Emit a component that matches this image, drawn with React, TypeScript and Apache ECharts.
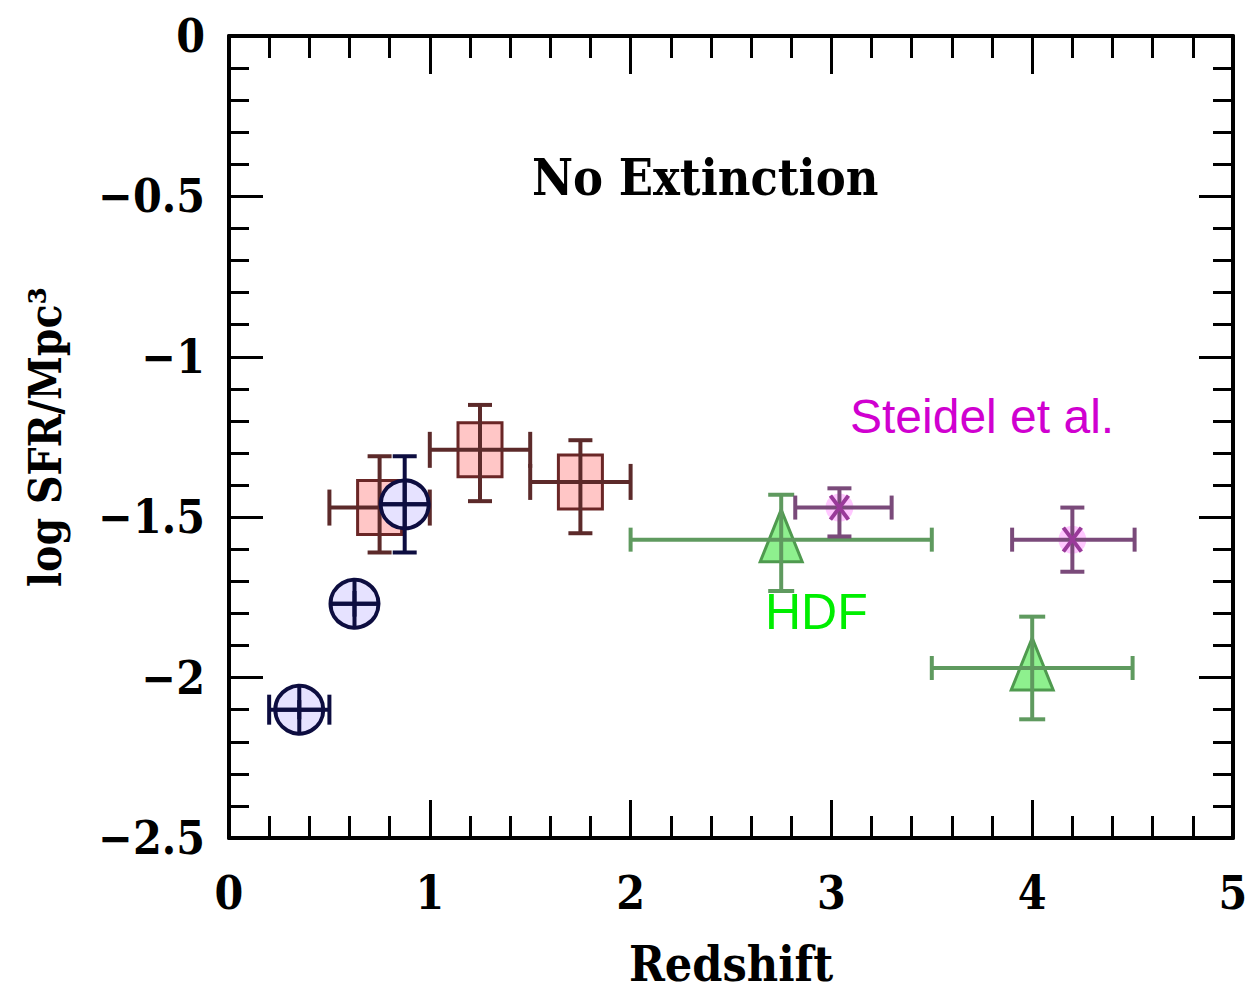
import React, { useEffect, useRef } from "react";
import * as echarts from "echarts";

// Lilly et al. (CFRS) – blue circles
const lillyZ = [0.35, 0.625, 0.875];
const lillyZLo = [0.2, 0.5, 0.75];
const lillyZHi = [0.5, 0.75, 1.0];
const lillySFR = [-2.1, -1.77, -1.46];
const lillySFRLo = [-2.13, -1.81, -1.61];
const lillySFRHi = [-2.07, -1.73, -1.31];

// Connolly et al. – red squares
const connollyZ = [0.75, 1.25, 1.75];
const connollyZLo = [0.5, 1.0, 1.5];
const connollyZHi = [1.0, 1.5, 2.0];
const connollySFR = [-1.47, -1.29, -1.39];
const connollySFRLo = [-1.61, -1.45, -1.55];
const connollySFRHi = [-1.31, -1.15, -1.26];

// HDF (Madau et al.) – green triangles
const hdfZ = [2.75, 4.0];
const hdfZLo = [2.0, 3.5];
const hdfZHi = [3.5, 4.5];
const hdfSFR = [-1.57, -1.97];
const hdfSFRLo = [-1.73, -2.13];
const hdfSFRHi = [-1.43, -1.81];

// Steidel et al. – magenta stars
const steidelZ = [3.04, 4.2];
const steidelZLo = [2.82, 3.9];
const steidelZHi = [3.3, 4.51];
const steidelSFR = [-1.47, -1.57];
const steidelSFRLo = [-1.56, -1.67];
const steidelSFRHi = [-1.41, -1.47];

const xTicks = [0, 1, 2, 3, 4, 5];
const yTicks = [0, -0.5, -1, -1.5, -2, -2.5];

const rows = (z: number[], zl: number[], zh: number[], s: number[], sl: number[], sh: number[]) =>
  z.map((v, i) => [v, s[i], zl[i], zh[i], sl[i], sh[i]]);

const SERIF = '"DejaVu Serif Condensed", "Liberation Serif", "DejaVu Serif", serif';

function makeRender(kind: string) {
  return (params: any, api: any) => {
    const x = api.value(0), y = api.value(1);
    const c = api.coord([x, y]);
    const l = api.coord([api.value(2), y]);
    const r = api.coord([api.value(3), y]);
    const b = api.coord([x, api.value(4)]);
    const t = api.coord([x, api.value(5)]);
    let barColor = "#5c2a2a", hCap = 24, vCap = 24, rad = 0;
    if (kind === "lilly") { barColor = "#0d0d40"; hCap = 30; vCap = 24; rad = 26; }
    if (kind === "connolly") { barColor = "#5c2a2a"; hCap = 36; vCap = 24; }
    if (kind === "hdf") { barColor = "#5f9a5f"; hCap = 24; vCap = 26; }
    if (kind === "steidel") { barColor = "#7a4a7a"; hCap = 24; vCap = 24; }
    const ls = { stroke: barColor, lineWidth: 4 };
    const children: any[] = [];
    if (kind === "lilly") {
      children.push({ type: "circle", shape: { cx: c[0], cy: c[1], r: 24 }, style: { fill: "#e6e2ff", stroke: "#0d0d40", lineWidth: 4 } });
    } else if (kind === "connolly") {
      children.push({ type: "rect", shape: { x: c[0] - 22, y: c[1] - 27, width: 44, height: 54 }, style: { fill: "#ffc6c6", stroke: "#6a2626", lineWidth: 3 } });
    } else if (kind === "hdf") {
      children.push({ type: "polygon", shape: { points: [[c[0], c[1] - 30], [c[0] - 21, c[1] + 22], [c[0] + 21, c[1] + 22]] }, style: { fill: "#8ef08e", stroke: "#4f9a4f", lineWidth: 3 } });
    } else {
      children.push({ type: "circle", shape: { cx: c[0], cy: c[1], r: 14 }, style: { fill: "#ffc8ff", stroke: "none" } });
    }
    children.push({ type: "line", shape: { x1: l[0], y1: l[1], x2: r[0], y2: r[1] }, style: ls });
    if (c[0] - l[0] > rad) children.push({ type: "line", shape: { x1: l[0], y1: l[1] - hCap / 2, x2: l[0], y2: l[1] + hCap / 2 }, style: ls });
    if (r[0] - c[0] > rad) children.push({ type: "line", shape: { x1: r[0], y1: r[1] - hCap / 2, x2: r[0], y2: r[1] + hCap / 2 }, style: ls });
    children.push({ type: "line", shape: { x1: b[0], y1: b[1], x2: t[0], y2: t[1] }, style: ls });
    if (b[1] - c[1] > rad) children.push({ type: "line", shape: { x1: b[0] - vCap / 2, y1: b[1], x2: b[0] + vCap / 2, y2: b[1] }, style: ls });
    if (c[1] - t[1] > rad) children.push({ type: "line", shape: { x1: t[0] - vCap / 2, y1: t[1], x2: t[0] + vCap / 2, y2: t[1] }, style: ls });
    if (kind === "lilly") {
      children.push({ type: "line", shape: { x1: c[0] - 24, y1: c[1], x2: c[0] + 24, y2: c[1] }, style: { stroke: "#0d0d40", lineWidth: 4 } });
      children.push({ type: "line", shape: { x1: c[0], y1: c[1] - 24, x2: c[0], y2: c[1] + 24 }, style: { stroke: "#0d0d40", lineWidth: 4 } });
    }
    if (kind === "steidel") {
      const m = { stroke: "#9a3a9a", lineWidth: 4 };
      children.push({ type: "line", shape: { x1: c[0] - 9, y1: c[1] - 12, x2: c[0] + 9, y2: c[1] + 12 }, style: m });
      children.push({ type: "line", shape: { x1: c[0] + 9, y1: c[1] - 12, x2: c[0] - 9, y2: c[1] + 12 }, style: m });
    }
    return { type: "group", children };
  };
}

export default function App() {
  const ref = useRef<HTMLDivElement>(null);
  useEffect(() => {
    const chart = echarts.init(ref.current!, null, { renderer: "svg" });
    const axisCommon = {
      type: "value" as const,
      axisLine: { show: true, onZero: false, lineStyle: { color: "#000", width: 4 } },
      splitLine: { show: false },
    };
    const xTick = {
      axisTick: { show: true, inside: true, length: 38, lineStyle: { color: "#000", width: 3 } },
      minorTick: { show: true, splitNumber: 5, length: 22, lineStyle: { color: "#000", width: 3 } },
    };
    const yTick = {
      axisTick: { show: true, inside: true, length: 34, lineStyle: { color: "#000", width: 3 } },
      minorTick: { show: true, splitNumber: 5, length: 20, lineStyle: { color: "#000", width: 3 } },
    };
    chart.setOption({
      animation: false,
      backgroundColor: "#ffffff",
      grid: { left: 229, top: 36, width: 1004, height: 802, containLabel: false, outerBoundsMode: "none" },
      xAxis: [
        {
          ...axisCommon, ...xTick, position: "bottom", min: 0, max: 5, interval: 1,
          axisLabel: { show: true, margin: 32, color: "#000", fontFamily: SERIF, fontWeight: "bold", fontSize: 46,
            formatter: (v: number) => (xTicks.includes(v) ? String(v) : "") },
          name: "Redshift", nameLocation: "middle", nameGap: 102,
          nameTextStyle: { color: "#000", fontFamily: SERIF, fontWeight: "bold", fontSize: 48 },
        },
        {
          ...axisCommon, ...xTick, position: "top", min: 0, max: 5, interval: 1,
          axisLabel: { show: false },
        },
      ],
      yAxis: [
        {
          ...axisCommon, ...yTick, position: "left", min: -2.5, max: 0, interval: 0.5,
          axisLabel: { show: true, margin: 24, color: "#000", fontFamily: SERIF, fontWeight: "bold", fontSize: 46,
            formatter: (v: number) => {
              const k = yTicks.find((t) => Math.abs(t - v) < 1e-9);
              if (k === undefined) return "";
              return k === 0 ? "0" : "\u2212" + String(Math.abs(k));
            } },
          name: "log SFR/Mpc\u00b3", nameLocation: "middle", nameGap: 162, nameRotate: 90,
          nameTextStyle: { color: "#000", fontFamily: SERIF, fontWeight: "bold", fontSize: 44 },
        },
        {
          ...axisCommon, ...yTick, position: "right", min: -2.5, max: 0, interval: 0.5,
          axisLabel: { show: false },
        },
      ],
      graphic: [
        { type: "text", left: 532, top: 152, style: { text: "No Extinction", fill: "#000", font: `bold 50px ${SERIF}` } },
        { type: "text", left: 850, top: 392, style: { text: "Steidel et al.", fill: "#d000d0", font: '48px "Liberation Sans", Arial, sans-serif' } },
        { type: "text", left: 765, top: 587, style: { text: "HDF", fill: "#00ee00", font: '50px "Liberation Sans", Arial, sans-serif' } },
      ],
      series: [
        { type: "custom", name: "Connolly", renderItem: makeRender("connolly"), encode: { x: 0, y: 1 },
          data: rows(connollyZ, connollyZLo, connollyZHi, connollySFR, connollySFRLo, connollySFRHi) },
        { type: "custom", name: "Lilly", renderItem: makeRender("lilly"), encode: { x: 0, y: 1 },
          data: rows(lillyZ, lillyZLo, lillyZHi, lillySFR, lillySFRLo, lillySFRHi) },
        { type: "custom", name: "HDF", renderItem: makeRender("hdf"), encode: { x: 0, y: 1 },
          data: rows(hdfZ, hdfZLo, hdfZHi, hdfSFR, hdfSFRLo, hdfSFRHi) },
        { type: "custom", name: "Steidel", renderItem: makeRender("steidel"), encode: { x: 0, y: 1 },
          data: rows(steidelZ, steidelZLo, steidelZHi, steidelSFR, steidelSFRLo, steidelSFRHi) },
      ],
    });
    return () => chart.dispose();
  }, []);
  return <div ref={ref} style={{ position: "absolute", left: 0, top: 0, width: 1258, height: 997 }} />;
}
